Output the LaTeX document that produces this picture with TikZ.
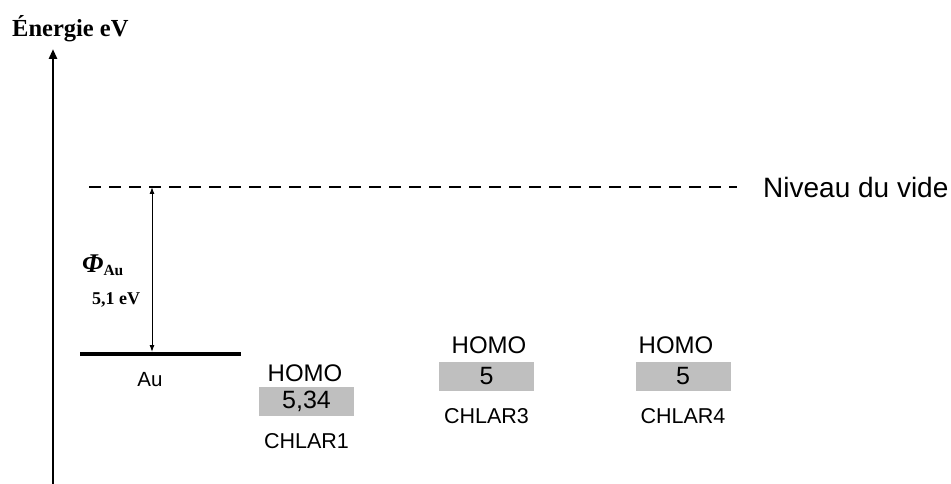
\documentclass[tikz,border=0pt]{standalone}
\usepackage{fontspec}
\setmainfont{Liberation Serif}
\newfontfamily\arialfont{Liberation Sans}
\usetikzlibrary{positioning, arrows.meta}
\definecolor{homogray}{RGB}{191,191,191}

\begin{document}
\begin{tikzpicture}[x=1pt, y=-1pt,
      txt/.style={inner sep=0pt, font=\arialfont\fontsize{21.5}{24}\selectfont},
      homo/.style={inner sep=0pt, font=\arialfont\fontsize{24}{26}\selectfont},
      hbox/.style={fill=homogray, minimum width=95pt, minimum height=29pt, inner sep=0pt,
        font=\arialfont\fontsize{25}{27}\selectfont},
      level/.style={line width=4pt},
      vac/.style={dash pattern=on 12pt off 8pt, line width=2pt}]
      \useasboundingbox (0,0) rectangle (951,484);
      % energy axis
      \coordinate (axbot) at (53,484);
      \coordinate (axtop) at (53,49);
      \draw[line width=2.5pt, -{Triangle[length=10pt, width=8pt]}] (axbot) -- (axtop);
      \node[inner sep=0pt, anchor=base west, font=\fontsize{24.5}{27}\selectfont\bfseries]
        (title) at (12,37) {Énergie eV};
      % vacuum level
      \coordinate (vacl) at (89,187);
      \coordinate (vacr) at (737,187);
      \draw[vac] (vacl) -- (vacr);
      \node[txt, anchor=west, font=\arialfont\fontsize{28}{30}\selectfont] (vide) at (763,187) {Niveau du vide};
      % gold
      \coordinate (aul) at (80,354);
      \coordinate (aur) at (241,354);
      \draw[level] (aul) -- (aur);
      \node[txt, font=\arialfont\fontsize{20.5}{22}\selectfont] (au) at (150,380) {Au};
      \coordinate (phitop) at (152,187);
      \coordinate (phibot) at (152,352);
      \draw[line width=1pt, {Latex[length=7pt, width=5pt]}-{Latex[length=7pt, width=5pt]}] (phibot) -- (phitop);
      \node[inner sep=0pt, anchor=base west] (phi) at (82,272)
        {{\fontsize{27}{29}\selectfont\bfseries\itshape Φ}\raisebox{-3pt}{\fontsize{15.5}{18}\selectfont\bfseries Au}};
      \node[inner sep=0pt, anchor=base west, font=\fontsize{18}{20}\selectfont\bfseries] (wf) at (92,304) {5,1 eV};
      % HOMO levels
      \node[hbox] (box1) at (306.5,401) {5,34};
      \node[homo] (homo1) at (305,373) {HOMO};
      \node[txt, below=18pt of box1] (chl1) {CHLAR1};
      \node[hbox] (box3) at (486.5,376) {5};
      \node[homo] (homo3) at (489,345) {HOMO};
      \node[txt, below=18pt of box3] (chl3) {CHLAR3};
      \node[hbox] (box4) at (683,376) {5};
      \node[homo] (homo4) at (676,345) {HOMO};
      \node[txt, below=18pt of box4] (chl4) {CHLAR4};
\end{tikzpicture}
\end{document}
